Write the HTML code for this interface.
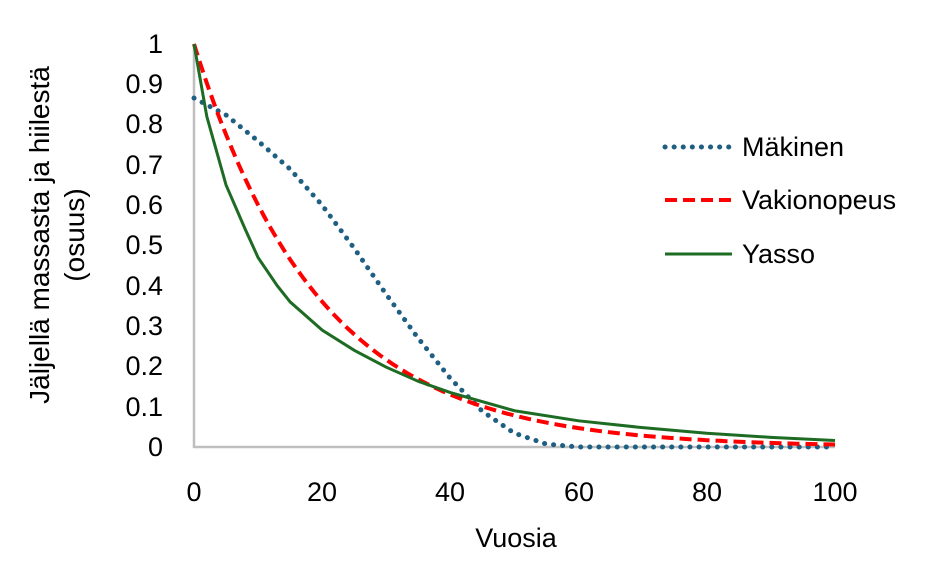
<!DOCTYPE html><html><head><style>body{margin:0;background:#fff}svg{font-family:"Liberation Sans",sans-serif}</style></head><body>
<svg width="948" height="570" xmlns="http://www.w3.org/2000/svg">
<rect width="948" height="570" fill="#fff"/>
<g stroke="#bfbfbf" stroke-width="2.5" fill="none"><line x1="194" y1="44" x2="194" y2="448"/><line x1="193" y1="447" x2="835" y2="447"/></g>
<g font-size="27" fill="#000" text-anchor="end">
<text x="163" y="456">0</text><text x="163" y="416">0.1</text><text x="163" y="375">0.2</text><text x="163" y="335">0.3</text><text x="163" y="295">0.4</text><text x="163" y="254">0.5</text><text x="163" y="214">0.6</text><text x="163" y="174">0.7</text><text x="163" y="133">0.8</text><text x="163" y="93">0.9</text><text x="163" y="53">1</text></g>
<g font-size="27" text-anchor="middle"><text x="194" y="501">0</text><text x="322" y="501">20</text><text x="450" y="501">40</text><text x="579" y="501">60</text><text x="707" y="501">80</text><text x="835" y="501">100</text>
<text x="516" y="547">Vuosia</text>
<text font-size="28" transform="translate(49,235) rotate(-90)">Jäljellä massasta ja hiilestä</text>
<text font-size="28" transform="translate(84,235) rotate(-90)">(osuus)</text></g>
<polyline fill="none" stroke="#1f5f82" stroke-width="5" stroke-dasharray="0.1 9" stroke-linecap="round" points="194,98 226,115 258,141 290,169 322,205 354,248 386,294 418,338 450,378 482,411 514,433 546,444 578,447 835,447"/>
<polyline id="r" fill="none" stroke="#ff0000" stroke-width="4" stroke-dasharray="12 6" points=""/>
<polyline id="g" fill="none" stroke="#1e6b23" stroke-width="3" points=""/>
<g stroke-width="4"><line x1="665" y1="147" x2="732" y2="147" stroke="#1f5f82" stroke-width="5" stroke-dasharray="0.1 9" stroke-linecap="round"/><line x1="665" y1="200" x2="732" y2="200" stroke="#ff0000" stroke-dasharray="12 6"/><line x1="665" y1="254" x2="732" y2="254" stroke="#1e6b23" stroke-width="3"/></g>
<g font-size="27"><text x="742" y="156">Mäkinen</text><text x="742" y="209">Vakionopeus</text><text x="742" y="263">Yasso</text></g>
<script>
var X=t=>194+6.41*t,Y=v=>447-403*v,p=[];
for(var t=0;t<=100;t+=1)p.push(X(t).toFixed(1)+","+Y(Math.exp(-0.051*t)).toFixed(1));
document.getElementById("r").setAttribute("points",p.join(" "));
var g=[[0,1],[2,.82],[5,.65],[8,.54],[10,.47],[13,.4],[15,.36],[20,.29],[25,.24],[30,.198],[35,.163],[40,.135],[50,.09],[60,.065],[70,.048],[80,.034],[90,.024],[100,.016]];
document.getElementById("g").setAttribute("points",g.map(a=>X(a[0])+","+Y(a[1])).join(" "));
</script>
</svg></body></html>
